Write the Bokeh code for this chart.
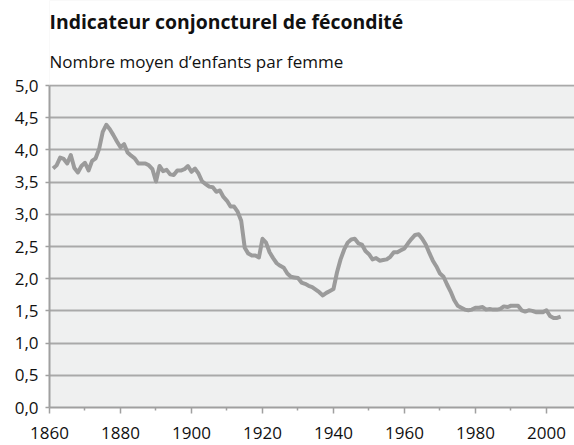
from bokeh.plotting import figure
from bokeh.models import FixedTicker, CustomJSTickFormatter, Label, Range1d, BoxAnnotation
from bokeh.embed import file_html
from bokeh.resources import INLINE

years = list(range(1861, 2005))
tfr = [
    3.71, 3.76, 3.88, 3.86, 3.79, 3.92, 3.72, 3.65, 3.75, 3.80,   # 1861-1870
    3.68, 3.83, 3.87, 4.02, 4.28, 4.39, 4.32, 4.23, 4.13, 4.04,   # 1871-1880
    4.09, 3.96, 3.91, 3.87, 3.79, 3.79, 3.79, 3.76, 3.70, 3.51,   # 1881-1890
    3.75, 3.67, 3.69, 3.62, 3.61, 3.68, 3.68, 3.70, 3.75, 3.66,   # 1891-1900
    3.71, 3.63, 3.51, 3.47, 3.43, 3.42, 3.35, 3.37, 3.27, 3.21,   # 1901-1910
    3.12, 3.12, 3.04, 2.90, 2.48, 2.39, 2.36, 2.36, 2.33, 2.62,   # 1911-1920
    2.56, 2.41, 2.32, 2.24, 2.20, 2.17, 2.08, 2.03, 2.02, 2.01,   # 1921-1930
    1.94, 1.92, 1.89, 1.87, 1.83, 1.79, 1.74, 1.78, 1.81, 1.84,   # 1931-1940
    2.10, 2.30, 2.45, 2.56, 2.61, 2.62, 2.55, 2.53, 2.43, 2.38,   # 1941-1950
    2.30, 2.32, 2.28, 2.29, 2.30, 2.34, 2.41, 2.41, 2.44, 2.47,   # 1951-1960
    2.55, 2.62, 2.68, 2.69, 2.62, 2.53, 2.40, 2.28, 2.19, 2.08,   # 1961-1970
    2.03, 1.91, 1.80, 1.67, 1.58, 1.55, 1.52, 1.51, 1.52, 1.55,   # 1971-1980
    1.55, 1.56, 1.52, 1.53, 1.52, 1.52, 1.53, 1.57, 1.56, 1.58,   # 1981-1990
    1.58, 1.58, 1.51, 1.49, 1.51, 1.50, 1.48, 1.48, 1.48, 1.51,   # 1991-2000
    1.42, 1.39, 1.39, 1.41,                                       # 2001-2004
]

x_ticks = [1860, 1880, 1900, 1920, 1940, 1960, 1980, 2000]
x_minor = [1870, 1890, 1910, 1930, 1950, 1970, 1990]
y_ticks = [0.0, 0.5, 1.0, 1.5, 2.0, 2.5, 3.0, 3.5, 4.0, 4.5, 5.0]

title_text = "Indicateur conjoncturel de fécondité"
subtitle_text = "Nombre moyen d’enfants par femme"

FONT = "Open Sans"
GRID = "#a9a9a9"
AXIS = "#a0a0a0"
YMAX_DATA = 5.0

p = figure(width=574, height=445, output_backend="svg", toolbar_location=None,
           x_range=Range1d(1860, 2007.9), y_range=Range1d(0, 6.32),
           min_border_left=49, min_border_right=0, min_border_top=0,
           min_border_bottom=38)
p.background_fill_color = "#eff0f0"
p.border_fill_color = "white"
p.outline_line_color = None

# white band above the 5,0 line (title area)
p.add_layout(BoxAnnotation(bottom=YMAX_DATA + 0.016, fill_color="white", fill_alpha=1,
                           line_color=None, level="underlay"))

p.line(years, tfr, line_color="#9b9b9b", line_width=4, line_join="round")

p.xgrid.visible = False
p.ygrid.ticker = FixedTicker(ticks=y_ticks)
p.ygrid.grid_line_color = GRID
p.ygrid.grid_line_width = 2

xa = p.xaxis[0]
xa.ticker = FixedTicker(ticks=x_ticks, minor_ticks=x_minor)
xa.axis_line_color = AXIS
xa.axis_line_width = 2
xa.major_tick_line_color = AXIS
xa.major_tick_line_width = 1.5
xa.major_tick_in = 0
xa.major_tick_out = 6
xa.minor_tick_line_color = AXIS
xa.minor_tick_line_width = 1.5
xa.minor_tick_in = 0
xa.minor_tick_out = 3
xa.major_label_standoff = 13
xa.major_label_text_font = FONT
xa.major_label_text_font_size = "17px"
xa.major_label_text_color = "#111111"

ya = p.yaxis[0]
ya.ticker = FixedTicker(ticks=y_ticks)
ya.bounds = (0, YMAX_DATA)
ya.formatter = CustomJSTickFormatter(code="return tick.toFixed(1).replace('.', ',');")
ya.axis_line_color = AXIS
ya.axis_line_width = 2
ya.major_tick_line_color = AXIS
ya.major_tick_line_width = 1.5
ya.major_tick_in = 0
ya.major_tick_out = 4
ya.minor_tick_line_color = None
ya.major_label_standoff = 7
ya.major_label_text_font = FONT
ya.major_label_text_font_size = "17px"
ya.major_label_text_color = "#111111"

p.add_layout(Label(x=1860, y=5.99, text=title_text, text_font=FONT,
                   text_font_size="19.4px", text_font_style="bold",
                   text_color="#111111", text_baseline="alphabetic"))
p.add_layout(Label(x=1860, y=5.378, text=subtitle_text, text_font=FONT,
                   text_font_size="17px", text_color="#111111",
                   text_baseline="alphabetic"))

open("out.html", "w").write(file_html(p, INLINE))
